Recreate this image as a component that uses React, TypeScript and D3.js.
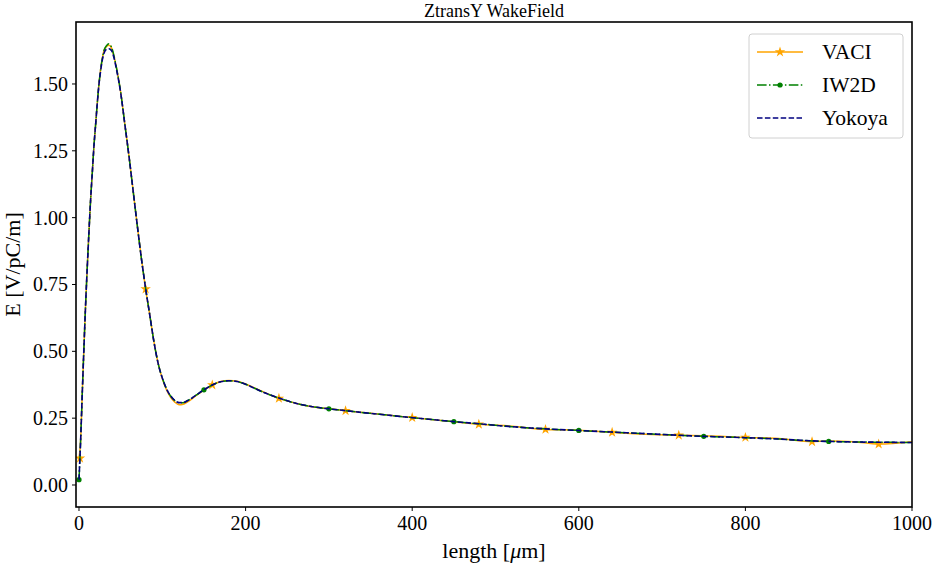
import React from "react";
import * as d3 from "d3";

const xs = [0, 2, 4, 6, 8, 10, 12, 14, 16, 18, 20, 22, 24, 26, 28, 30, 33, 36, 39, 42, 45,
  50, 55, 60, 65, 70, 75, 80, 85, 90, 95, 100, 105, 110, 115, 120, 125, 130,
  140, 150, 160, 170, 180, 190, 200, 210, 220, 240, 260, 280, 300, 320, 350,
  400, 450, 480, 520, 560, 600, 640, 680, 720, 750, 800, 840, 880, 900, 930, 960, 1000];

const iw2d = [0.02, 0.17, 0.35, 0.52, 0.68, 0.82, 0.95, 1.07, 1.17, 1.27, 1.35, 1.43, 1.50, 1.555, 1.595, 1.625, 1.643, 1.65, 1.638, 1.605, 1.56,
  1.47, 1.35, 1.23, 1.10, 0.97, 0.845, 0.735, 0.635, 0.535, 0.455, 0.40, 0.36, 0.333, 0.316, 0.308, 0.308, 0.315,
  0.335, 0.356, 0.374, 0.386, 0.39, 0.387, 0.377, 0.363, 0.349, 0.325, 0.306, 0.293, 0.285, 0.278, 0.268,
  0.252, 0.237, 0.229, 0.218, 0.21, 0.204, 0.198, 0.192, 0.186, 0.182, 0.177, 0.172, 0.165, 0.163, 0.161, 0.16, 0.159];

const yokoya = [0.02, 0.17, 0.35, 0.52, 0.68, 0.82, 0.95, 1.07, 1.17, 1.27, 1.35, 1.43, 1.50, 1.55, 1.59, 1.615, 1.63, 1.632, 1.625, 1.598, 1.555,
  1.468, 1.35, 1.23, 1.10, 0.97, 0.845, 0.735, 0.635, 0.535, 0.455, 0.40, 0.36, 0.333, 0.316, 0.308, 0.308, 0.315,
  0.335, 0.356, 0.374, 0.386, 0.39, 0.387, 0.377, 0.363, 0.349, 0.325, 0.306, 0.293, 0.285, 0.278, 0.268,
  0.252, 0.237, 0.229, 0.218, 0.21, 0.204, 0.198, 0.192, 0.186, 0.182, 0.177, 0.172, 0.165, 0.163, 0.161, 0.16, 0.159];

const vaci = [0.10, 0.17, 0.35, 0.52, 0.68, 0.82, 0.95, 1.07, 1.17, 1.27, 1.35, 1.43, 1.50, 1.555, 1.595, 1.625, 1.64, 1.645, 1.635, 1.603, 1.56,
  1.47, 1.35, 1.23, 1.10, 0.97, 0.845, 0.733, 0.635, 0.535, 0.455, 0.398, 0.356, 0.328, 0.31, 0.300, 0.302, 0.31,
  0.333, 0.355, 0.374, 0.387, 0.391, 0.388, 0.378, 0.364, 0.35, 0.324, 0.306, 0.293, 0.285, 0.278, 0.268,
  0.252, 0.237, 0.227, 0.22, 0.208, 0.205, 0.197, 0.19, 0.186, 0.184, 0.178, 0.174, 0.162, 0.165, 0.162, 0.153, 0.162];

const vaciMarkX = [0, 80, 160, 240, 320, 400, 480, 560, 640, 720, 800, 880, 960];
const iw2dMarkX = [0, 150, 300, 450, 600, 750, 900];

const xTicks = [0, 200, 400, 600, 800, 1000];
const yTicks = [0, 0.25, 0.5, 0.75, 1.0, 1.25, 1.5];

const seriesNames = ["VACI", "IW2D", "Yokoya"];
const title = "ZtransY WakeField";

const W = 935, H = 567;
const L = 76, R = 912, T = 22, B = 507;
const FONT = "'Liberation Serif', 'DejaVu Serif', serif";

export default function App() {
  const x = d3.scaleLinear().domain([-3.6, 1000]).range([L, R]);
  const y = d3.scaleLinear().domain([-0.0823, 1.7318]).range([B, T]);
  const line = (ys: number[]) =>
    d3.line<number>().x((_, i) => x(xs[i])).y((d) => y(d)).curve(d3.curveMonotoneX)(ys) || "";
  const star = d3.symbol().type(d3.symbolStar).size(34)() || "";
  const idx = (v: number) => xs.indexOf(v);

  const legX = 749, legY = 34;
  const rows = [52, 85, 118];

  return (
    <svg width={W} height={H} style={{ position: "fixed", left: 0, top: 0, background: "#fff" }} fontFamily={FONT}>
      <rect x={0} y={0} width={W} height={H} fill="#fff" />
      <text x={(L + R) / 2} y={17} textAnchor="middle" fontSize={18}>{title}</text>

      <defs>
        <clipPath id="clip"><rect x={L} y={T} width={R - L} height={B - T} /></clipPath>
      </defs>

      <g clipPath="url(#clip)">
        <path d={line(vaci)} fill="none" stroke="#FFA500" strokeWidth={1.5} />
        {vaciMarkX.map((v) => (
          <path key={"s" + v} d={star} transform={`translate(${x(v === 0 ? 1.2 : v)},${y(vaci[idx(v)])})`} fill="#FFA500" />
        ))}
        <path d={line(iw2d)} fill="none" stroke="#008000" strokeWidth={1.5} strokeDasharray="9.6,2.4,1.5,2.4" />
        {iw2dMarkX.map((v) => (
          <circle key={"c" + v} cx={x(v)} cy={y(iw2d[idx(v)])} r={2.6} fill="#008000" />
        ))}
        <path d={line(yokoya)} fill="none" stroke="#000080" strokeWidth={1.6} strokeDasharray="5.5,2.4" />
      </g>

      {xTicks.map((t) => (
        <g key={"xt" + t}>
          <line x1={x(t)} x2={x(t)} y1={B} y2={B + 4} stroke="#000" strokeWidth={1} />
          <text x={x(t)} y={530} textAnchor="middle" fontSize={20}>{t}</text>
        </g>
      ))}
      {yTicks.map((t) => (
        <g key={"yt" + t}>
          <line x1={L - 4} x2={L} y1={y(t)} y2={y(t)} stroke="#000" strokeWidth={1} />
          <text x={L - 8} y={y(t) + 7} textAnchor="end" fontSize={20}>{t.toFixed(2)}</text>
        </g>
      ))}

      <rect x={L} y={T} width={R - L} height={B - T} fill="none" stroke="#000" strokeWidth={1.6} />

      <text x={(L + R) / 2} y={558} textAnchor="middle" fontSize={22}>
        length [<tspan fontStyle="italic">μ</tspan>m]
      </text>
      <text transform={`translate(20,${(T + B) / 2}) rotate(-90)`} textAnchor="middle" fontSize={22}>E [V/pC/m]</text>

      <rect x={legX} y={legY} width={154} height={104} rx={3} fill="#fff" fillOpacity={0.8} stroke="#d0d0d0" strokeWidth={1} />
      <line x1={757} x2={803} y1={rows[0]} y2={rows[0]} stroke="#FFA500" strokeWidth={1.5} />
      <path d={star} transform={`translate(780,${rows[0]})`} fill="#FFA500" />
      <line x1={757} x2={803} y1={rows[1]} y2={rows[1]} stroke="#008000" strokeWidth={1.5} strokeDasharray="9.6,2.4,1.5,2.4" />
      <circle cx={780} cy={rows[1]} r={2.6} fill="#008000" />
      <line x1={757} x2={803} y1={rows[2]} y2={rows[2]} stroke="#000080" strokeWidth={1.6} strokeDasharray="5.5,2.4" />
      {seriesNames.map((n, i) => (
        <text key={n} x={822} y={rows[i] + 7} fontSize={21.5}>{n}</text>
      ))}
    </svg>
  );
}
